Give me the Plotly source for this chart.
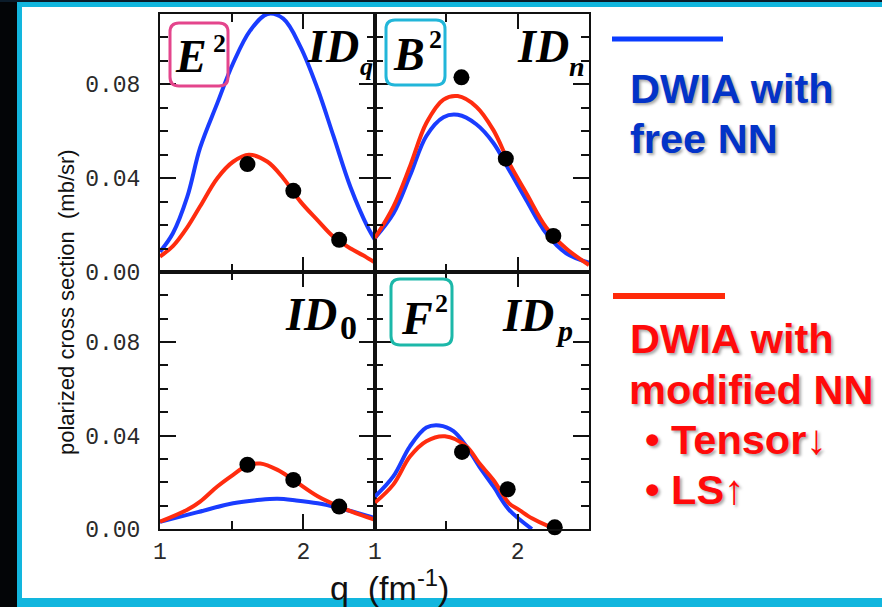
import plotly.graph_objects as go

W, H = 882, 607

# ---------------- data ----------------
# Panel E^2 / ID_q (top-left)
q_Eq_blue = [1.00, 1.09, 1.19, 1.28, 1.40, 1.51, 1.63, 1.75, 1.86, 1.98, 2.10, 2.21, 2.33, 2.45, 2.50]
v_Eq_blue = [0.0086, 0.0165, 0.032, 0.053, 0.072, 0.089, 0.103, 0.110, 0.108, 0.096, 0.078, 0.058, 0.036, 0.019, 0.0137]
q_Eq_red = [1.00, 1.09, 1.19, 1.28, 1.40, 1.51, 1.62, 1.75, 1.86, 1.98, 2.10, 2.21, 2.33, 2.42, 2.50]
v_Eq_red = [0.0066, 0.011, 0.019, 0.028, 0.040, 0.047, 0.050, 0.047, 0.040, 0.030, 0.022, 0.015, 0.010, 0.007, 0.004]
q_Eq_dat = [1.61, 1.93, 2.25]
v_Eq_dat = [0.046, 0.0346, 0.0137]

# Panel B^2 / ID_n (top-right)
q_Bn_blue = [1.00, 1.13, 1.245, 1.36, 1.48, 1.58, 1.71, 1.83, 1.94, 2.06, 2.20, 2.34, 2.50]
v_Bn_blue = [0.0145, 0.025, 0.041, 0.058, 0.066, 0.067, 0.063, 0.055, 0.0435, 0.0307, 0.0165, 0.008, 0.004]
q_Bn_red = [1.00, 1.13, 1.245, 1.36, 1.48, 1.58, 1.71, 1.83, 1.94, 2.06, 2.20, 2.34, 2.50]
v_Bn_red = [0.0145, 0.028, 0.045, 0.0635, 0.0735, 0.075, 0.0705, 0.0605, 0.0465, 0.0337, 0.019, 0.010, 0.003]
q_Bn_dat = [1.606, 1.917, 2.25]
v_Bn_dat = [0.083, 0.0483, 0.0154]

# Panel ID_0 (bottom-left)
q_I0_blue = [1.00, 1.25, 1.51, 1.70, 1.82, 1.95, 2.10, 2.25, 2.40, 2.50]
v_I0_blue = [0.0031, 0.007, 0.011, 0.0125, 0.0129, 0.0122, 0.011, 0.009, 0.0065, 0.0047]
q_I0_red = [1.00, 1.19, 1.28, 1.40, 1.51, 1.61, 1.70, 1.82, 1.93, 2.10, 2.25, 2.40, 2.50]
v_I0_red = [0.0031, 0.0082, 0.0117, 0.0182, 0.0232, 0.0272, 0.028, 0.0253, 0.021, 0.014, 0.0096, 0.006, 0.0039]
q_I0_dat = [1.61, 1.93, 2.25]
v_I0_dat = [0.0275, 0.021, 0.0096]

# Panel F^2 / ID_p (bottom-right)
q_Fp_blue = [1.00, 1.128, 1.245, 1.36, 1.45, 1.55, 1.64, 1.73, 1.83, 1.94, 2.10]
v_Fp_blue = [0.0139, 0.0225, 0.0354, 0.0434, 0.0443, 0.0419, 0.0354, 0.0268, 0.0182, 0.0082, 0.0]
q_Fp_red = [1.00, 1.128, 1.245, 1.36, 1.49, 1.64, 1.73, 1.83, 1.94, 2.01, 2.10, 2.20, 2.27]
v_Fp_red = [0.0113, 0.019, 0.031, 0.0376, 0.0397, 0.0354, 0.0282, 0.021, 0.011, 0.0082, 0.0046, 0.0017, 0.0003]
q_Fp_dat = [1.61, 1.93, 2.26]
v_Fp_dat = [0.033, 0.017, 0.0007]

y_tickvals = [0.0, 0.04, 0.08]
y_ticktext = ["0.00", "0.04", "0.08"]
x_tickvals = [1, 2]
x_ticktext = ["1", "2"]

BLUE = "#1a3cff"
RED = "#ff2c0f"


def X(x):
    return x / W


def Y(y):
    return 1 - y / H


panels = [
    ("x", "y", q_Eq_blue, v_Eq_blue, q_Eq_red, v_Eq_red, q_Eq_dat, v_Eq_dat),
    ("x2", "y2", q_Bn_blue, v_Bn_blue, q_Bn_red, v_Bn_red, q_Bn_dat, v_Bn_dat),
    ("x3", "y3", q_I0_blue, v_I0_blue, q_I0_red, v_I0_red, q_I0_dat, v_I0_dat),
    ("x4", "y4", q_Fp_blue, v_Fp_blue, q_Fp_red, v_Fp_red, q_Fp_dat, v_Fp_dat),
]

fig = go.Figure()
for xa, ya, qb, vb, qr, vr, qd, vd in panels:
    fig.add_trace(go.Scatter(x=qb, y=vb, mode="lines", xaxis=xa, yaxis=ya,
                             line=dict(color=BLUE, width=4, shape="spline", smoothing=1.0),
                             showlegend=False, hoverinfo="skip"))
    fig.add_trace(go.Scatter(x=qr, y=vr, mode="lines", xaxis=xa, yaxis=ya,
                             line=dict(color=RED, width=4, shape="spline", smoothing=1.0),
                             showlegend=False, hoverinfo="skip"))
    fig.add_trace(go.Scatter(x=qd, y=vd, mode="markers", xaxis=xa, yaxis=ya,
                             marker=dict(color="black", size=16), cliponaxis=False,
                             showlegend=False, hoverinfo="skip"))

LC = "#111111"
tickfont = dict(family="Liberation Mono, Courier New, monospace", size=23, color="#2a2a2a")


def xaxis(domain, anchor, labels):
    return dict(domain=domain, anchor=anchor, range=[1, 2.5], showline=True, linecolor=LC,
                linewidth=2, mirror="ticks", ticks="inside", tickvals=x_tickvals,
                ticktext=x_ticktext, ticklen=15, tickwidth=2, tickcolor=LC,
                minor=dict(tickvals=[1.5], ticks="inside", ticklen=8, tickwidth=2, tickcolor=LC),
                showgrid=False, zeroline=False, showticklabels=labels, tickfont=tickfont,
                ticklabelstandoff=0, fixedrange=True, automargin=False)


def yaxis(domain, anchor, labels):
    return dict(domain=domain, anchor=anchor, range=[0, 0.11], showline=True, linecolor=LC,
                linewidth=2, mirror="ticks", ticks="inside", tickvals=y_tickvals,
                ticktext=y_ticktext, ticklen=16, tickwidth=2, tickcolor=LC,
                minor=dict(dtick=0.01, tick0=0, ticks="inside", ticklen=8, tickwidth=2, tickcolor=LC),
                showgrid=False, zeroline=False, showticklabels=labels, tickfont=tickfont,
                ticklabelstandoff=13, fixedrange=True, automargin=False)


xL = [X(160), X(375)]
xR = [X(375), X(589)]
yT = [Y(272), Y(14)]
yB = [Y(529), Y(272)]

fig.update_layout(
    width=W, height=H, margin=dict(l=0, r=0, t=0, b=0, pad=0, autoexpand=False),
    paper_bgcolor="#12b6de", plot_bgcolor="rgba(0,0,0,0)",
    xaxis=xaxis(xL, "y", False), yaxis=yaxis(yT, "x", True),
    xaxis2=xaxis(xR, "y2", False), yaxis2=yaxis(yT, "x2", False),
    xaxis3=xaxis(xL, "y3", True), yaxis3=yaxis(yB, "x3", True),
    xaxis4=xaxis(xR, "y4", True), yaxis4=yaxis(yB, "x4", False),
)

shapes = []
# slide background pieces
shapes.append(dict(type="rect", xref="paper", yref="paper", x0=X(22), x1=X(882), y0=Y(598), y1=Y(7),
                   fillcolor="white", line=dict(width=0), layer="below"))
shapes.append(dict(type="rect", xref="paper", yref="paper", x0=0, x1=X(17), y0=0, y1=1,
                   fillcolor="#030507", line=dict(width=0), layer="below"))
shapes.append(dict(type="rect", xref="paper", yref="paper", x0=0, x1=1, y0=Y(2), y1=1,
                   fillcolor="#0b1c2a", line=dict(width=0), layer="below"))


def rounded(x0, y0, x1, y1, r, color):
    a, b, c, d = X(x0), X(x1), Y(y0), Y(y1)
    rx, ry = r / W, r / H
    path = (f"M{a+rx},{c} L{b-rx},{c} Q{b},{c} {b},{c-ry} L{b},{d+ry} Q{b},{d} {b-rx},{d} "
            f"L{a+rx},{d} Q{a},{d} {a},{d+ry} L{a},{c-ry} Q{a},{c} {a+rx},{c} Z")
    return dict(type="path", xref="paper", yref="paper", path=path,
                line=dict(color=color, width=3), fillcolor="rgba(0,0,0,0)", layer="above")


shapes.append(rounded(170, 23, 228, 86, 9, "#e4458c"))
shapes.append(rounded(386, 20, 445, 85, 9, "#22b6d9"))
shapes.append(rounded(391, 279, 452, 345, 9, "#1cb8a9"))

# legend lines
shapes.append(dict(type="line", xref="paper", yref="paper", x0=X(612), x1=X(723), y0=Y(39), y1=Y(39),
                   line=dict(color="#0a3cff", width=5)))
shapes.append(dict(type="line", xref="paper", yref="paper", x0=X(613), x1=X(725), y0=Y(296), y1=Y(296),
                   line=dict(color="#ff2a0a", width=6)))
fig.update_layout(shapes=shapes)

SERIF = "Liberation Serif, Times New Roman, serif"
SANS = "Liberation Sans, Arial, sans-serif"
ann = []


def txt(s, xc, yc, size, family, color="#000", xanchor="center", weight="bold", style="normal",
        angle=0, shadow=None):
    f = dict(family=family, size=size, color=color, weight=weight, style=style)
    if shadow:
        f["shadow"] = shadow
    ann.append(dict(text=s, x=X(xc), y=Y(yc), xref="paper", yref="paper", showarrow=False,
                    xanchor=xanchor, yanchor="middle", font=f, textangle=angle,
                    borderpad=0, borderwidth=0))


# panel labels
txt("E", 191, 57, 46, SERIF, style="italic")
txt("2", 219, 43, 26, SERIF)
txt("ID", 333, 46, 46, SERIF, style="italic")
txt("q", 366, 66, 26, SERIF, style="italic")

txt("B", 409, 54, 46, SERIF, style="italic")
txt("2", 435, 40, 26, SERIF)
txt("ID", 543, 46, 46, SERIF, style="italic")
txt("n", 577, 66, 28, SERIF, style="italic")

txt("ID", 311, 314, 46, SERIF, style="italic")
txt("0", 348, 327, 34, SERIF)

txt("F", 417, 318, 46, SERIF, style="italic")
txt("2", 441, 303, 26, SERIF)
txt("ID", 528, 315, 46, SERIF, style="italic")
txt("p", 564, 330, 30, SERIF, style="italic")

# axis titles
txt("polarized cross section\u00a0\u00a0(mb/sr)", 67, 302, 22, SANS, color="#111", weight="normal", angle=-90)
txt("q\u00a0\u00a0(fm<sup>-1</sup>)", 389, 585, 34, SANS, color="#111", weight="normal")

# legend text
SH = "2px 2px 3px rgba(0,0,0,0.35)"
BT = "#0333c8"
RT = "#ff0a0a"
LS = 41.5
txt("DWIA with", 630, 89, LS, SANS, color=BT, xanchor="left", shadow=SH)
txt("free NN", 630, 139, LS, SANS, color=BT, xanchor="left", shadow=SH)
txt("DWIA with", 630, 338, LS, SANS, color=RT, xanchor="left", shadow=SH)
txt("modified NN", 629, 389, LS, SANS, color=RT, xanchor="left", shadow=SH)
txt("• Tensor↓", 645, 439, LS, SANS, color=RT, xanchor="left", shadow=SH)
txt("• LS↑", 645, 489, LS, SANS, color=RT, xanchor="left", shadow=SH)

fig.update_layout(annotations=ann)
fig.write_html(
    "out.html",
    config={"displayModeBar": False, "staticPlot": True},
    post_script=(
        "var s=document.documentElement.style;s.margin='0';s.padding='0';s.overflow='hidden';"
        "var b=document.body.style;b.margin='0';b.padding='0';b.overflow='hidden';"
    ),
)
